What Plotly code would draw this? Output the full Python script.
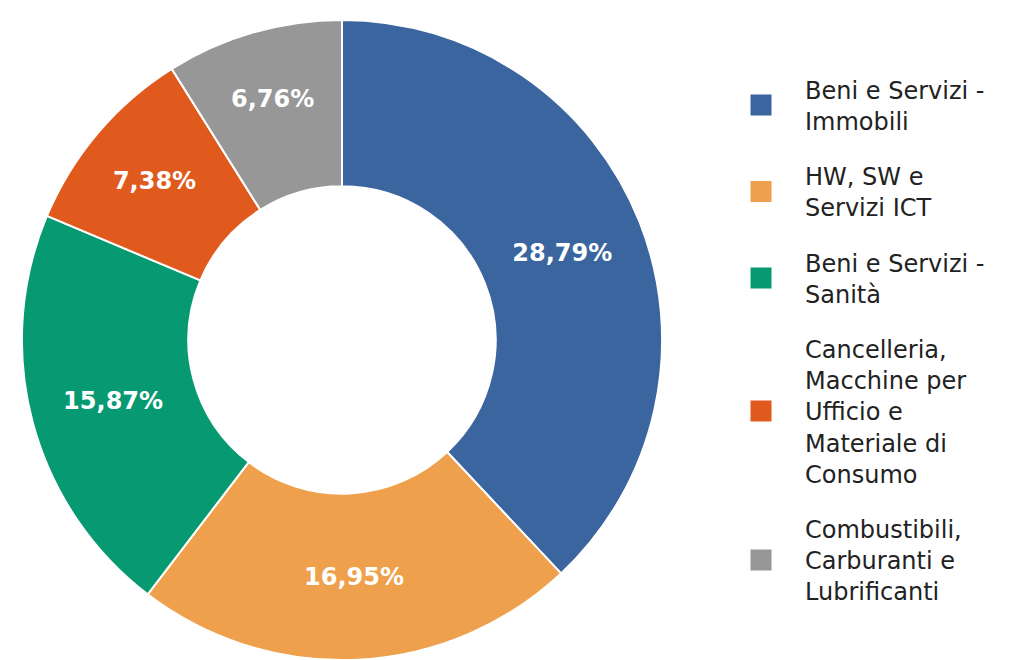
import plotly.graph_objects as go

categories = [
    "Beni e Servizi -<br>Immobili",
    "HW, SW e<br>Servizi ICT",
    "Beni e Servizi -<br>Sanità",
    "Cancelleria,<br>Macchine per<br>Ufficio e<br>Materiale di<br>Consumo",
    "Combustibili,<br>Carburanti e<br>Lubrificanti",
]
values = [28.79, 16.95, 15.87, 7.38, 6.76]
labels_text = ["28,79%", "16,95%", "15,87%", "7,38%", "6,76%"]
colors = ["#3a659f", "#eea04c", "#079a72", "#e05a1e", "#969796"]

fig = go.Figure()
fig.add_trace(go.Pie(
    labels=categories,
    values=values,
    text=labels_text,
    textinfo="text",
    textposition="inside",
    insidetextorientation="horizontal",
    textfont=dict(family="DejaVu Sans", size=24, color="white", weight="bold"),
    hole=0.48,
    sort=False,
    direction="clockwise",
    rotation=0,
    showlegend=False,
    marker=dict(colors=colors, line=dict(color="white", width=2)),
    domain=dict(x=[0.0129, 0.6485], y=[0.012, 0.982]),
))

# legend entries (one per category, same colours as the slices)
for i, (name, col) in enumerate(zip(categories, colors)):
    fig.add_trace(go.Scatter(
        x=[None], y=[None], mode="markers", name=name,
        legendgroup=str(i),
        marker=dict(symbol="square", size=16, color=col, line=dict(color=col, width=5)),
        hoverinfo="skip",
    ))

fig.update_layout(
    width=1010, height=660,
    margin=dict(l=0, r=0, t=0, b=0),
    paper_bgcolor="white",
    plot_bgcolor="white",
    xaxis=dict(visible=False),
    yaxis=dict(visible=False),
    showlegend=True,
    legend=dict(
        x=0.702, y=0.91, xanchor="left", yanchor="top",
        font=dict(family="DejaVu Sans", size=24, color="#222222"),
        itemwidth=78,
        traceorder="grouped",
        tracegroupgap=21,
    ),
)

fig.write_html("out.html")
